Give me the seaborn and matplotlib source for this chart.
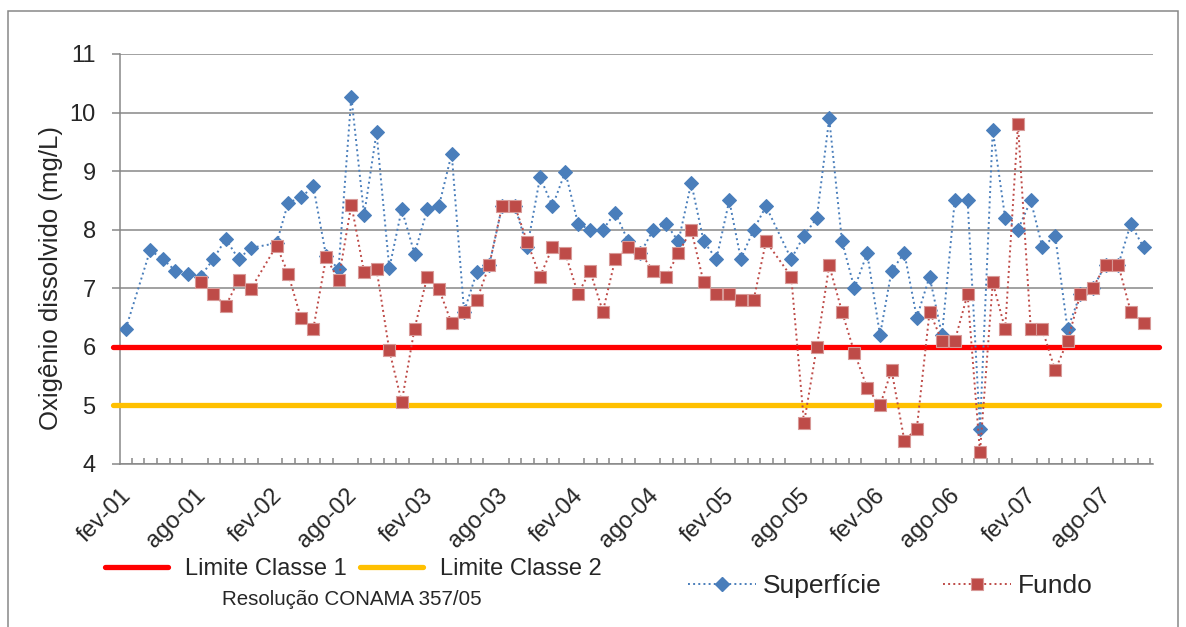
import pandas as pd
import matplotlib.pyplot as plt
import matplotlib.dates as mdates
import seaborn as sns
from matplotlib.lines import Line2D
from matplotlib.patches import Rectangle
from matplotlib.ticker import FuncFormatter

# Meses contados a partir de fev-01 (coletas por volta do dia 15)
sup_meses = [0, 2, 3, 4, 5, 6, 7, 8, 9, 10, 12, 13, 14, 15, 16, 17, 18, 19, 20,
             21, 22, 23, 24, 25, 26, 27, 28, 29, 30, 31, 32, 33, 34, 35, 36, 37,
             38, 39, 40, 41, 42, 43, 44, 45, 46, 47, 48, 49, 50, 51, 53, 54, 55,
             56, 57, 58, 59, 60, 61, 62, 63, 64, 65, 66, 67, 68, 69, 70, 71, 72,
             73, 74, 75, 76, 77, 78, 79, 80, 81]
sup_od = [6.31, 7.65, 7.50, 7.30, 7.25, 7.20, 7.50, 7.84, 7.50, 7.69, 7.77, 8.46,
          8.55, 8.74, 7.55, 7.33, 10.27, 8.25, 9.66, 7.34, 8.35, 7.59, 8.35, 8.40,
          9.30, 6.60, 7.28, 7.40, 8.40, 8.40, 7.70, 8.90, 8.40, 8.99, 8.10, 8.00,
          8.00, 8.29, 7.81, 7.60, 8.00, 8.10, 7.80, 8.80, 7.80, 7.50, 8.50, 7.50,
          8.00, 8.40, 7.50, 7.90, 8.20, 9.90, 7.80, 7.00, 7.60, 6.20, 7.30, 7.60,
          6.50, 7.20, 6.20, 8.50, 8.50, 4.60, 9.70, 8.20, 8.00, 8.50, 7.70, 7.90,
          6.30, 6.90, 7.00, 7.40, 7.40, 8.10, 7.70]

fundo_meses = [6, 7, 8, 9, 10, 12, 13, 14, 15, 16, 17, 18, 19, 20, 21, 22, 23, 24,
               25, 26, 27, 28, 29, 30, 31, 32, 33, 34, 35, 36, 37, 38, 39, 40, 41,
               42, 43, 44, 45, 46, 47, 48, 49, 50, 51, 53, 54, 55, 56, 57, 58, 59,
               60, 61, 62, 63, 64, 65, 66, 67, 68, 69, 70, 71, 72, 73, 74, 75, 76,
               77, 78, 79, 80, 81]
fundo_od = [7.10, 6.90, 6.70, 7.14, 6.99, 7.73, 7.25, 6.49, 6.31, 7.53, 7.14, 8.43,
            7.27, 7.33, 5.94, 5.06, 6.31, 7.20, 6.99, 6.40, 6.59, 6.80, 7.40, 8.40,
            8.40, 7.79, 7.20, 7.70, 7.60, 6.90, 7.30, 6.60, 7.50, 7.70, 7.60, 7.30,
            7.20, 7.60, 8.00, 7.10, 6.90, 6.90, 6.80, 6.80, 7.80, 7.20, 4.70, 6.00,
            7.39, 6.60, 5.90, 5.30, 5.00, 5.60, 4.40, 4.60, 6.60, 6.10, 6.10, 6.90,
            4.20, 7.10, 6.30, 9.80, 6.30, 6.30, 5.60, 6.10, 6.90, 7.00, 7.40, 7.40,
            6.60, 6.40]

limite_classe1 = 6
limite_classe2 = 5
meses_pt = ['jan', 'fev', 'mar', 'abr', 'mai', 'jun',
            'jul', 'ago', 'set', 'out', 'nov', 'dez']

inicio = pd.Timestamp('2001-02-15')


def datas(meses):
    return [inicio + pd.DateOffset(months=m) for m in meses]


sup = pd.DataFrame({'data': datas(sup_meses), 'od': sup_od})
fundo = pd.DataFrame({'data': datas(fundo_meses), 'od': fundo_od})

azul = '#4A7EBB'
vermelho = '#BE4B48'
cinza = '#878787'

sns.set_style('white')
plt.rcParams['font.family'] = ['Liberation Sans', 'DejaVu Sans']

fig, ax = plt.subplots(figsize=(11.86, 6.27), dpi=100)
fig.subplots_adjust(left=0.1012, right=0.9722, top=0.9139, bottom=0.26)

# limites CONAMA
ax.axhline(limite_classe1, color='#FF0000', lw=3.8, xmin=-0.007, xmax=1.006,
           clip_on=False, zorder=3)
ax.axhline(limite_classe2, color='#FFC000', lw=3.8, xmin=-0.007, xmax=1.006,
           clip_on=False, zorder=3)

sns.lineplot(data=sup, x='data', y='od', ax=ax, color=azul, linestyle=':',
             lw=1.4, marker='D', ms=6.8, mec=azul, zorder=4)
sns.lineplot(data=fundo, x='data', y='od', ax=ax, color=vermelho, linestyle=':',
             lw=1.4, marker='s', ms=8.2, mec='#D89A98', mew=0.8, zorder=5)

ax.set_ylim(4, 11)
ax.set_yticks(range(4, 12))
ax.yaxis.grid(True, color=cinza, lw=1.1)
ax.set_axisbelow(True)

ax.set_xlim(pd.Timestamp('2001-02-01'), pd.Timestamp('2007-12-08'))
ax.xaxis.set_major_locator(mdates.MonthLocator(bymonth=[2, 8]))
ax.xaxis.set_minor_locator(mdates.MonthLocator())


def fmt_mes(x, pos):
    d = mdates.num2date(x)
    return f'{meses_pt[d.month - 1]}-{d:%y}'


ax.xaxis.set_major_formatter(FuncFormatter(fmt_mes))

for s in ['top', 'right']:
    ax.spines[s].set_visible(False)
for s in ['left', 'bottom']:
    ax.spines[s].set_color(cinza)
    ax.spines[s].set_linewidth(1.1)

ax.tick_params(axis='x', which='major', direction='out', length=6, width=1.1,
               color=cinza, labelsize=17, pad=9)
ax.tick_params(axis='x', which='minor', direction='in', length=4, width=1.1,
               color=cinza, bottom=True)
ax.tick_params(axis='y', direction='out', length=6, width=1.1, color=cinza,
               labelsize=17, pad=11.5, left=True)
for lab in ax.get_xticklabels():
    lab.set_rotation(45)
    lab.set_ha('right')
    lab.set_va('top')
    lab.set_rotation_mode('anchor')

ax.set_xlabel('')
ax.set_ylabel('Oxigênio dissolvido (mg/L)', fontsize=18.5)
ax.yaxis.set_label_coords(-0.055, 0.453)

# legendas
h_lim = [Line2D([], [], color='#FF0000', lw=3.8),
         Line2D([], [], color='#FFC000', lw=3.8)]
fig.legend(h_lim, ['Limite Classe 1', 'Limite Classe 2'], loc='center left',
           bbox_to_anchor=(0.0885, 0.0925), ncol=2, frameon=False, fontsize=17,
           borderpad=0, borderaxespad=0, handlelength=2.67, handletextpad=0.72,
           columnspacing=0.55)
fig.text(0.2968, 0.044, 'Resolução CONAMA 357/05', fontsize=14.8, ha='center',
         va='center')

h_ser = [Line2D([], [], color=azul, ls=':', lw=1.4, marker='D', ms=6.8, mec=azul),
         Line2D([], [], color=vermelho, ls=':', lw=1.4, marker='s', ms=8.2,
                mec='#D89A98', mew=0.8)]
fig.legend(h_ser, ['Superfície', 'Fundo'], loc='center left',
           bbox_to_anchor=(0.58, 0.0654), ncol=2, frameon=False, fontsize=19,
           borderpad=0, borderaxespad=0, handlelength=2.6, handletextpad=0.25,
           columnspacing=2.3, numpoints=1)

# moldura do gráfico
fig.patches.append(Rectangle((8 / 1186, -0.1), 1170 / 1186, 1.1 - 11 / 627,
                             transform=fig.transFigure, fill=False,
                             edgecolor=cinza, lw=1.1))

fig.savefig('out.png', dpi=100)
